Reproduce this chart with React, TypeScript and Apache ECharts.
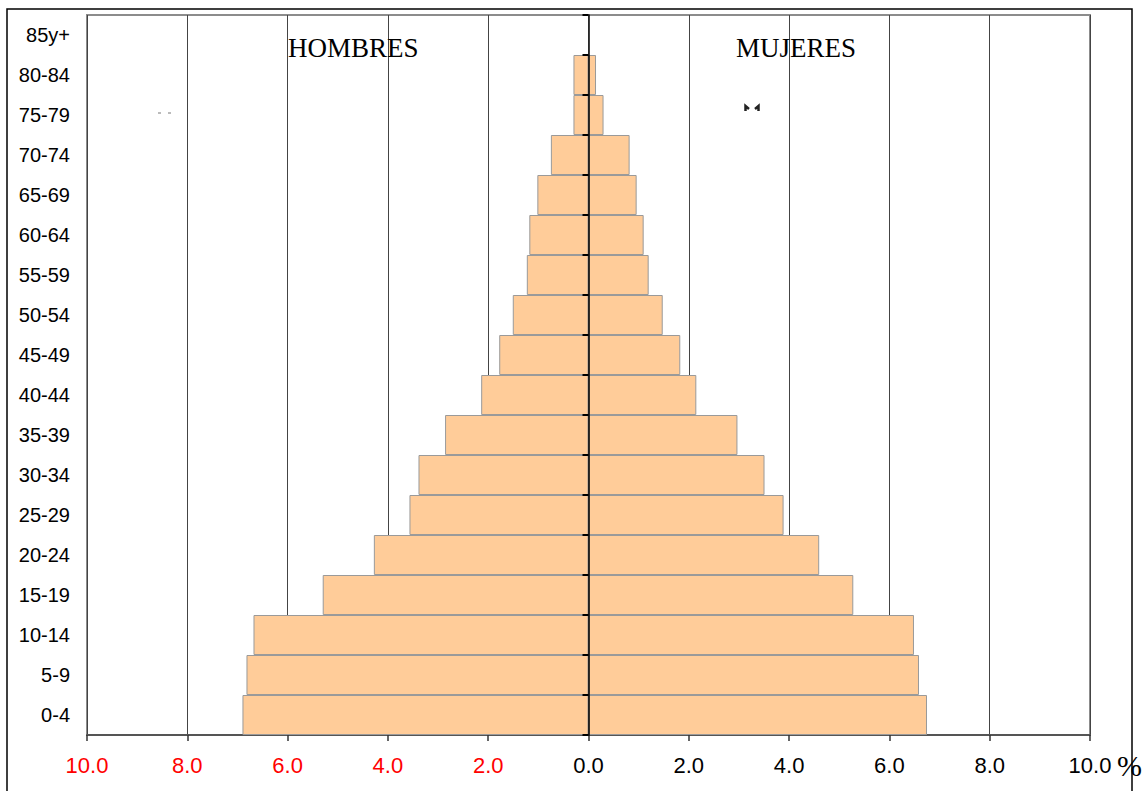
import React, { useEffect, useRef } from 'react';
import * as echarts from 'echarts';

const categories = ['0-4', '5-9', '10-14', '15-19', '20-24', '25-29', '30-34', '35-39', '40-44', '45-49', '50-54', '55-59', '60-64', '65-69', '70-74', '75-79', '80-84', '85y+'];
const hombres = [6.90, 6.82, 6.68, 5.30, 4.28, 3.57, 3.39, 2.86, 2.14, 1.78, 1.51, 1.23, 1.18, 1.02, 0.75, 0.30, 0.30, 0];
const mujeres = [6.75, 6.59, 6.49, 5.28, 4.60, 3.89, 3.51, 2.97, 2.15, 1.83, 1.48, 1.20, 1.10, 0.96, 0.82, 0.30, 0.15, 0];
const sideTitles = ['HOMBRES', 'MUJERES'];
const unitLabel = '%';

const SANS = "'Liberation Sans', Arial, sans-serif";
const SERIF = "'Liberation Serif', 'Times New Roman', serif";

export default function App() {
  const ref = useRef<HTMLDivElement>(null);
  useEffect(() => {
    if (!ref.current) return;
    const chart = echarts.init(ref.current, null, { renderer: 'svg' });
    const barStyle = { color: '#FFCC99', borderColor: '#9a9a9a', borderWidth: 1 };
    chart.setOption({
      animation: false,
      backgroundColor: '#ffffff',
      grid: {
        left: 87, right: 54, top: 15, bottom: 56,
        show: true, borderColor: '#8c8c8c', borderWidth: 2,
        containLabel: false, outerBoundsMode: 'none',
      },
      xAxis: {
        type: 'value', min: -10, max: 10, interval: 2,
        axisLine: { show: true, onZero: false, lineStyle: { color: '#555', width: 2 } },
        axisTick: { show: true, inside: false, length: 6, lineStyle: { color: '#333', width: 1.5 } },
        splitLine: { show: true, lineStyle: { color: '#444', width: 1 } },
        axisLabel: {
          margin: 19,
          showMinLabel: true, showMaxLabel: true, hideOverlap: false,
          formatter: (v: number) => (v < 0 ? `{r|${Math.abs(v).toFixed(1)}}` : `{k|${v.toFixed(1)}}`),
          rich: {
            r: { color: '#ff0000', fontSize: 22, fontFamily: SANS },
            k: { color: '#000000', fontSize: 22, fontFamily: SANS },
          },
        },
      },
      yAxis: [
        {
          type: 'category', data: categories, position: 'left',
          axisLine: { show: false, onZero: false },
          axisTick: { show: false },
          splitLine: { show: false },
          axisLabel: { margin: 17, color: '#000', fontSize: 20, fontFamily: SANS, interval: 0 },
        },
        {
          type: 'category', data: categories, position: 'left', z: 10,
          axisLine: { show: true, onZero: true, lineStyle: { color: '#000', width: 1.5 } },
          axisTick: { show: true, inside: false, length: 6, lineStyle: { color: '#000', width: 2 } },
          splitLine: { show: false },
          axisLabel: { show: false },
        },
      ],
      series: [
        {
          name: sideTitles[0], type: 'bar', yAxisIndex: 0,
          data: hombres.map((v) => -v),
          barWidth: '100%', barGap: '-100%', barCategoryGap: '0%',
          itemStyle: barStyle,
        },
        {
          name: sideTitles[1], type: 'bar', yAxisIndex: 0,
          data: mujeres,
          barWidth: '100%', barGap: '-100%', barCategoryGap: '0%',
          itemStyle: barStyle,
        },
      ],
      graphic: [
        { type: 'rect', silent: true, z: 100, shape: { x: 7, y: 9, width: 1125, height: 800 }, style: { fill: 'none', stroke: '#000', lineWidth: 1.5 } },
        { type: 'text', z: 100, x: 288, y: 48, style: { text: sideTitles[0], font: `27px ${SERIF}`, fill: '#000', verticalAlign: 'middle' } },
        { type: 'text', z: 100, x: 736, y: 48, style: { text: sideTitles[1], font: `27px ${SERIF}`, fill: '#000', verticalAlign: 'middle' } },
        { type: 'text', z: 100, x: 1117, y: 765, style: { text: unitLabel, font: `30px ${SERIF}`, fill: '#000', verticalAlign: 'middle' } },
        { type: 'rect', z: 100, shape: { x: 158, y: 112.5, width: 3, height: 1 }, style: { fill: '#777' } },
        { type: 'rect', z: 100, shape: { x: 168, y: 112.5, width: 3, height: 1 }, style: { fill: '#777' } },
        { type: 'polyline', z: 100, shape: { points: [[745.5, 111], [745.5, 106], [749, 109]] }, style: { stroke: '#222', lineWidth: 2.5, fill: 'none' } },
        { type: 'polyline', z: 100, shape: { points: [[755, 109], [758.5, 106], [758.5, 111]] }, style: { stroke: '#222', lineWidth: 2.5, fill: 'none' } },
      ],
    });
    return () => chart.dispose();
  }, []);
  return <div ref={ref} style={{ position: 'absolute', left: 0, top: 0, width: 1144, height: 791 }} />;
}
